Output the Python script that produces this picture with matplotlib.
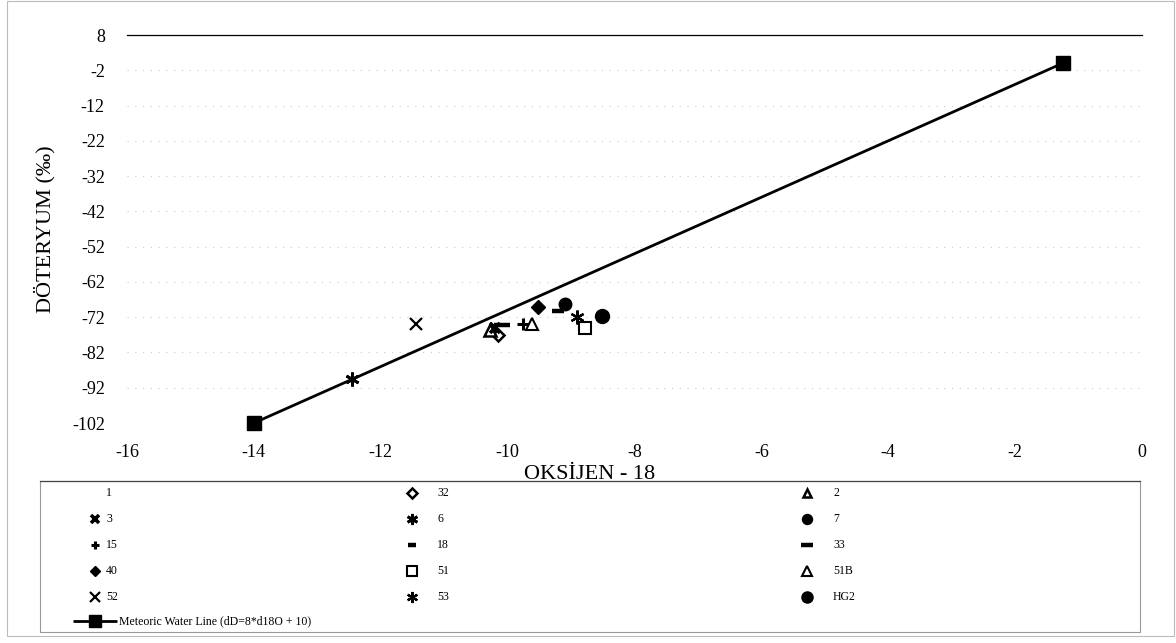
import numpy as np
import matplotlib
matplotlib.use('Agg')
import matplotlib.pyplot as plt
from matplotlib.patches import Rectangle

plt.rcParams['font.family'] = ['Liberation Serif', 'DejaVu Serif']
plt.rcParams['axes.unicode_minus'] = False

# sample values (d18O, dD in permil)
sample_names = ['1', '32', '2', '3', '6', '7', '15', '18', '33',
                '40', '51', '51B', '52', '53', 'HG2']
d18o = [np.nan, -10.15, -10.27, -10.2, -12.45, -9.1, -9.76, -9.2, -10.09,
        -9.52, -8.78, -9.62, -11.45, -8.91, -8.51]
dD = [np.nan, -77.1, -75.5, -75.2, -89.5, -68.3, -74.0, -70.3, -74.3,
      -69.1, -75.1, -74.0, -74.0, -72.0, -71.7]

# meteoric water line end points
mwl_x = [-14.0, -1.25]
mwl_y = [-102.0, 0.0]
mwl_label = 'Meteoric Water Line (dD=8*d18O + 10)'

x_ticks = [-16, -14, -12, -10, -8, -6, -4, -2, 0]
y_ticks = [8, -2, -12, -22, -32, -42, -52, -62, -72, -82, -92, -102]

k = 'black'
styles = {
    '1':   dict(marker='None'),
    '32':  dict(marker='D', ms=6, mfc='white', mec=k, mew=1.8),
    '2':   dict(marker='^', ms=8, mfc='white', mec=k, mew=1.8),
    '3':   dict(marker='x', ms=7, mec=k, mew=2.6),
    '6':   dict(marker=(6, 2, 0), ms=10, mec=k, mew=2.0),
    '7':   dict(marker='o', ms=9, mfc=k, mec=k),
    '15':  dict(marker='+', ms=8, mec=k, mew=2.2),
    '18':  dict(marker='_', ms=8, mec=k, mew=3.2),
    '33':  dict(marker='_', ms=11, mec=k, mew=3.2),
    '40':  dict(marker='D', ms=7, mfc=k, mec=k),
    '51':  dict(marker='s', ms=9, mfc='white', mec=k, mew=1.5),
    '51B': dict(marker='^', ms=9, mfc='white', mec=k, mew=1.5),
    '52':  dict(marker='x', ms=9, mec=k, mew=1.6),
    '53':  dict(marker=(6, 2, 0), ms=10, mec=k, mew=1.6),
    'HG2': dict(marker='o', ms=10, mfc=k, mec=k),
}

W, H = 1176, 643
fig = plt.figure(figsize=(W / 100, H / 100), dpi=100)
ax = fig.add_axes([127 / W, 1 - 423 / H, (1142 - 127) / W, (423 - 35) / H])

ax.plot(mwl_x, mwl_y, color=k, lw=2.0, marker='s', ms=10, zorder=2, clip_on=False)
for name, x, y in zip(sample_names, d18o, dD):
    ax.plot([x], [y], ls='none', zorder=3, clip_on=False, **styles[name])

ax.set_xlim(-16, 0)
ax.set_ylim(-102, 8)
ax.set_xticks(x_ticks)
ax.set_yticks(y_ticks)
ax.tick_params(length=0, labelsize=13)
ax.tick_params(axis='x', pad=15)
ax.tick_params(axis='y', pad=16)
for s in ['left', 'right', 'bottom']:
    ax.spines[s].set_visible(False)
ax.spines['top'].set_linewidth(0.9)
ax.grid(axis='y', color='#cccccc', ls=(0, (1, 6)), lw=0.8)
ax.set_ylabel('DÖTERYUM (‰)', fontsize=16, labelpad=12)

# overlay in pixel coordinates for x label, legend and outer frame
ov = fig.add_axes([0, 0, 1, 1], zorder=5)
ov.set_xlim(0, W)
ov.set_ylim(H, 0)
ov.axis('off')
ov.patch.set_alpha(0)

ov.add_patch(Rectangle((7, 1), W - 9, 635, fill=False, ec='#bbbbbb', lw=0.8))
ov.add_patch(Rectangle((40, 481), 1100, 151, fill=False, ec='#999999', lw=0.8))
ov.plot([40, 1140], [481, 481], color='#444444', lw=0.9)
ov.text(590, 479, 'OKSİJEN - 18', ha='center', va='baseline', fontsize=16)

col_marker = [95, 412, 807]
col_text = [106, 437, 833]
row_y = [493, 519, 545, 571, 597]
for i, name in enumerate(sample_names):
    r, c = divmod(i, 3)
    st = dict(styles[name])
    if 'ms' in st:
        st['ms'] = st['ms'] * 0.8
    ov.plot([col_marker[c]], [row_y[r]], ls='none', **st)
    ov.text(col_text[c], row_y[r], name, ha='left', va='center', fontsize=8.5)

ov.plot([73, 117], [621, 621], color=k, lw=2.0, solid_capstyle='butt')
ov.plot([95], [621], ls='none', marker='s', ms=8, color=k)
ov.text(119, 621, mwl_label, ha='left', va='center', fontsize=8.5)

fig.savefig('out.png', dpi=100)
